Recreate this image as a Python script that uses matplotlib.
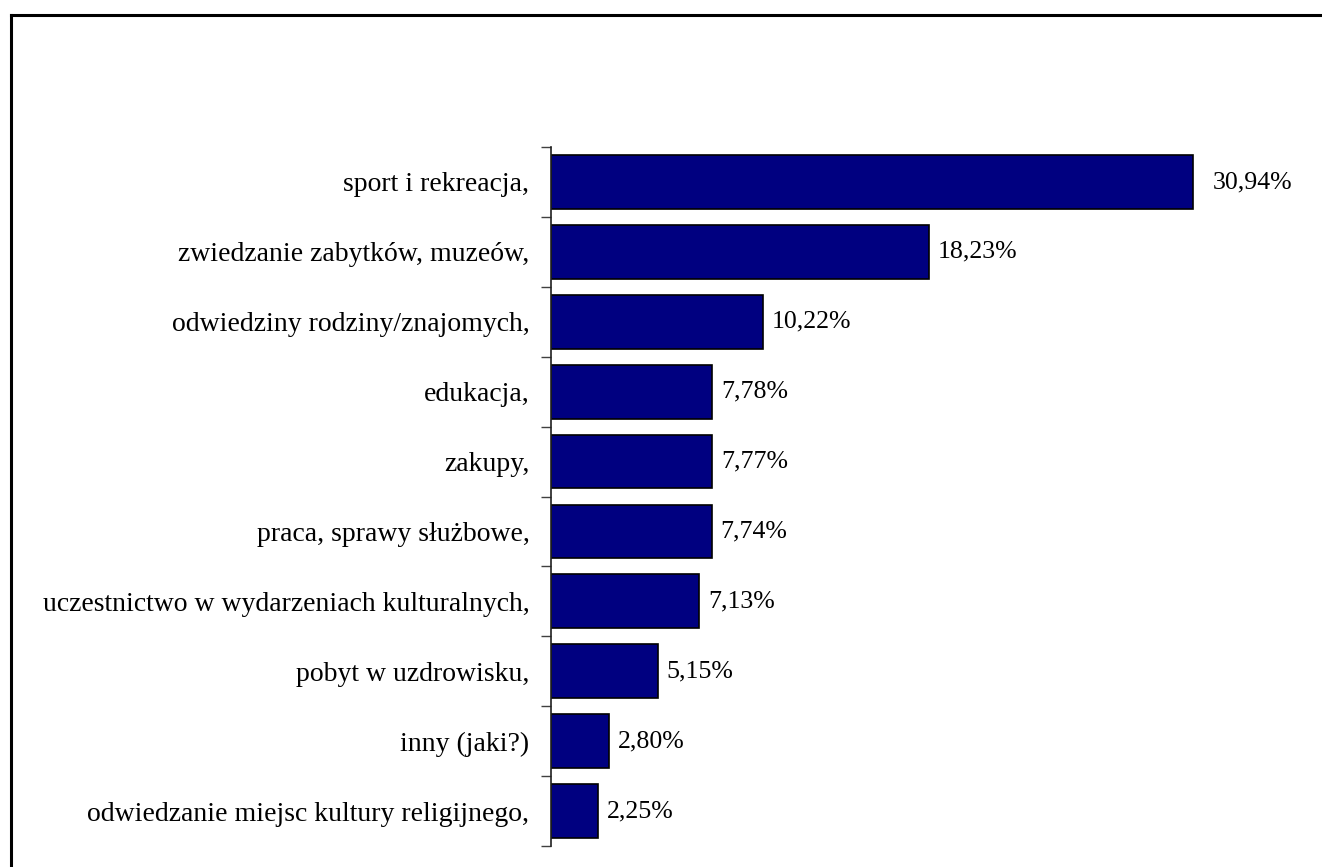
import matplotlib
matplotlib.use('Agg')
import matplotlib.pyplot as plt
from matplotlib.lines import Line2D
import numpy as np

categories = [
    'sport i rekreacja,',
    'zwiedzanie zabytków, muzeów,',
    'odwiedziny rodziny/znajomych,',
    'edukacja,',
    'zakupy,',
    'praca, sprawy służbowe,',
    'uczestnictwo w wydarzeniach kulturalnych,',
    'pobyt w uzdrowisku,',
    'inny (jaki?)',
    'odwiedzanie miejsc kultury religijnego,',
]
values = [30.94, 18.23, 10.22, 7.78, 7.77, 7.74, 7.13, 5.15, 2.80, 2.25]
value_labels = ['30,94%', '18,23%', '10,22%', '7,78%', '7,77%',
                '7,74%', '7,13%', '5,15%', '2,80%', '2,25%']

plt.rcParams['font.family'] = ['Liberation Serif', 'DejaVu Serif']

fig = plt.figure(figsize=(13.22, 8.67), dpi=100)
ax = fig.add_axes([0.4168, 0.0242, 0.5492, 0.8062])

y = np.arange(len(categories))
ax.barh(y, values, height=0.77, color='#000080', edgecolor='black', linewidth=1.2)

# etykiety wartości za końcem słupka
for i, (v, lab) in enumerate(zip(values, value_labels)):
    off = 20 if i == 0 else 9
    ax.annotate(lab, (v, i), xytext=(off, 0), textcoords='offset pixels',
                va='center', ha='left', fontsize=18.6)

ax.set_xlim(0, 35)
ax.set_ylim(len(categories) - 0.5, -0.5)

# kreski osi na granicach kategorii, podpisy pośrodku
ax.set_yticks(np.arange(-0.5, len(categories), 1.0))
ax.set_yticklabels([])
ax.set_yticks(y, minor=True)
ax.set_yticklabels(categories, minor=True, fontsize=20)
ax.tick_params(axis='y', which='major', length=7, width=1.0, color='#404040', direction='out')
ax.tick_params(axis='y', which='minor', length=0, pad=15.5)

ax.set_xticks([])
for side in ['top', 'right', 'bottom']:
    ax.spines[side].set_visible(False)
ax.spines['left'].set_linewidth(1.2)
ax.spines['left'].set_color('#202020')

# ramka wykresu (lewa i górna krawędź)
W, H = 1322, 867
fig.add_artist(Line2D([11 / W, 11 / W], [0, 1 - 15 / H], transform=fig.transFigure,
                      color='black', linewidth=2.2, solid_capstyle='projecting'))
fig.add_artist(Line2D([11 / W, 1], [1 - 15 / H, 1 - 15 / H], transform=fig.transFigure,
                      color='black', linewidth=2.2, solid_capstyle='projecting'))

fig.savefig('out.png', dpi=100)
